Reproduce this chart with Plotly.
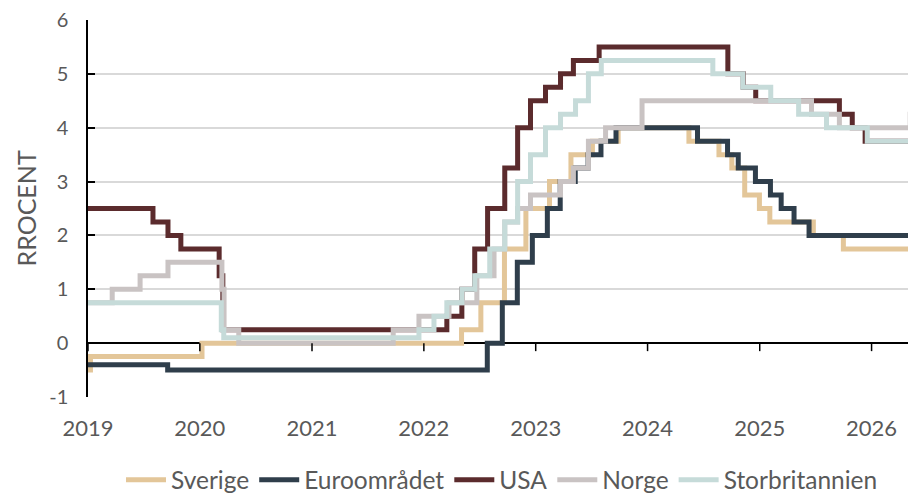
import plotly.graph_objects as go
import pandas as pd

END = "2026-07-01"

# Change dates and the new rate from that date (step series)
sverige_dates = ["2019-01-01", "2019-01-09", "2020-01-08", "2022-05-04", "2022-07-06", "2022-09-21",
                 "2022-11-30", "2023-02-15", "2023-04-26", "2023-07-05", "2023-09-27", "2024-05-15",
                 "2024-08-21", "2024-10-02", "2024-11-13", "2024-12-31", "2025-02-03", "2025-06-25",
                 "2025-10-01", END]
sverige_vals = [-0.5, -0.25, 0.0, 0.25, 0.75, 1.75, 2.5, 3.0, 3.5, 3.75, 4.0, 3.75,
                3.5, 3.25, 2.75, 2.5, 2.25, 2.0, 1.75, 1.75]

euro_dates = ["2019-01-01", "2019-09-18", "2022-07-27", "2022-09-14", "2022-11-02", "2022-12-21",
              "2023-02-08", "2023-03-22", "2023-05-10", "2023-06-21", "2023-08-02", "2023-09-20",
              "2024-06-12", "2024-09-18", "2024-10-23", "2024-12-18", "2025-02-05", "2025-03-12",
              "2025-04-23", "2025-06-11", END]
euro_vals = [-0.4, -0.5, 0.0, 0.75, 1.5, 2.0, 2.5, 3.0, 3.25, 3.5, 3.75, 4.0,
             3.75, 3.5, 3.25, 3.0, 2.75, 2.5, 2.25, 2.0, 2.0]

usa_dates = ["2019-01-01", "2019-08-01", "2019-09-19", "2019-10-31", "2020-03-04", "2020-03-16",
             "2022-03-17", "2022-05-05", "2022-06-16", "2022-07-28", "2022-09-22", "2022-11-03",
             "2022-12-15", "2023-02-02", "2023-03-23", "2023-05-04", "2023-07-27", "2024-09-19",
             "2024-11-08", "2024-12-19", "2025-09-18", "2025-10-30", "2025-12-11", END]
usa_vals = [2.5, 2.25, 2.0, 1.75, 1.25, 0.25, 0.5, 1.0, 1.75, 2.5, 3.25, 4.0,
            4.5, 4.75, 5.0, 5.25, 5.5, 5.0, 4.75, 4.5, 4.25, 4.0, 3.75, 3.75]

norge_dates = ["2019-01-01", "2019-03-21", "2019-06-20", "2019-09-19", "2020-03-13", "2020-03-20",
               "2020-05-07", "2021-09-23", "2021-12-16", "2022-03-24", "2022-06-23", "2022-08-18",
               "2022-09-22", "2022-11-03", "2022-12-15", "2023-03-23", "2023-05-04", "2023-06-22",
               "2023-08-17", "2023-12-14", "2025-06-19", "2025-09-18", "2026-05-07", END]
norge_vals = [0.75, 1.0, 1.25, 1.5, 1.0, 0.25, 0.0, 0.25, 0.5, 0.75, 1.25, 1.75,
              2.25, 2.5, 2.75, 3.0, 3.25, 3.75, 4.0, 4.5, 4.25, 4.0, 4.25, 4.25]

uk_dates = ["2019-01-01", "2020-03-11", "2020-03-19", "2021-12-16", "2022-02-03", "2022-03-17",
            "2022-05-05", "2022-06-16", "2022-08-04", "2022-09-22", "2022-11-03", "2022-12-15",
            "2023-02-02", "2023-03-23", "2023-05-11", "2023-06-22", "2023-08-03", "2024-08-01",
            "2024-11-07", "2025-02-06", "2025-05-08", "2025-08-07", "2025-12-18", END]
uk_vals = [0.75, 0.25, 0.1, 0.25, 0.5, 0.75, 1.0, 1.25, 1.75, 2.25, 3.0, 3.5,
           4.0, 4.25, 4.5, 5.0, 5.25, 5.0, 4.75, 4.5, 4.25, 4.0, 3.75, 3.75]

series_names = ["Sverige", "Euroområdet", "USA", "Norge", "Storbritannien"]
tick_years = ["2019", "2020", "2021", "2022", "2023", "2024", "2025", "2026"]
y_ticks = [-1, 0, 1, 2, 3, 4, 5, 6]
y_ticktext = ["-1", "0", "1", "2", "3", "4", "5", "6"]
y_title = "RROCENT"

colors = ["#e3c699", "#2f3e4b", "#5b2b2d", "#c9c3c3", "#c6dbd9"]
data = [(sverige_dates, sverige_vals), (euro_dates, euro_vals), (usa_dates, usa_vals),
        (norge_dates, norge_vals), (uk_dates, uk_vals)]

fig = go.Figure()
for name, (d, v), c in zip(series_names, data, colors):
    fig.add_trace(go.Scatter(x=pd.to_datetime(d), y=v, name=name, mode="lines",
                             line=dict(color=c, width=5, shape="hv")))

# tick marks hanging below the zero line
for yr in tick_years:
    fig.add_shape(type="line", xref="x", yref="y", x0=f"{yr}-01-01", x1=f"{yr}-01-01",
                  ysizemode="pixel", yanchor=0, y0=0, y1=-8,
                  line=dict(color="black", width=1.5))

font_color = "#595959"
fig.add_annotation(text=y_title, xref="paper", yref="paper", x=0, y=0.5,
                   xanchor="center", yanchor="middle", xshift=-63, textangle=-90,
                   showarrow=False, font=dict(size=25, color=font_color))

fig.update_layout(
    width=916, height=496,
    margin=dict(l=80, r=8, t=12, b=107, autoexpand=False),
    paper_bgcolor="white", plot_bgcolor="white",
    font=dict(family="Lato", size=20, color=font_color),
    showlegend=True,
    legend=dict(orientation="h", x=0.5, xanchor="center", y=-0.22, yanchor="middle",
                yref="paper", font=dict(size=24.5, color=font_color), itemwidth=40,
                tracegroupgap=0),
    xaxis=dict(type="date", range=["2019-01-01", "2026-05-26"], automargin=False,
               tickvals=[f"{y}-01-01" for y in tick_years], ticktext=tick_years,
               showgrid=False, zeroline=False, showline=False,
               ticks="outside", ticklen=12, tickcolor="rgba(0,0,0,0)",
               tickfont=dict(size=22, color=font_color)),
    yaxis=dict(range=[-1, 6], tickvals=y_ticks, ticktext=y_ticktext, automargin=False,
               ticklabeloverflow="allow", ticklabelstandoff=14,
               showgrid=True, gridcolor="#d9d9d9", gridwidth=1.5,
               zeroline=True, zerolinecolor="black", zerolinewidth=1.5,
               showline=True, linecolor="black", linewidth=1.5,
               ticks="inside", ticklen=7, tickcolor="black", tickwidth=1.5,
               tickfont=dict(size=20, color=font_color)),
)

fig.write_html("out.html")
